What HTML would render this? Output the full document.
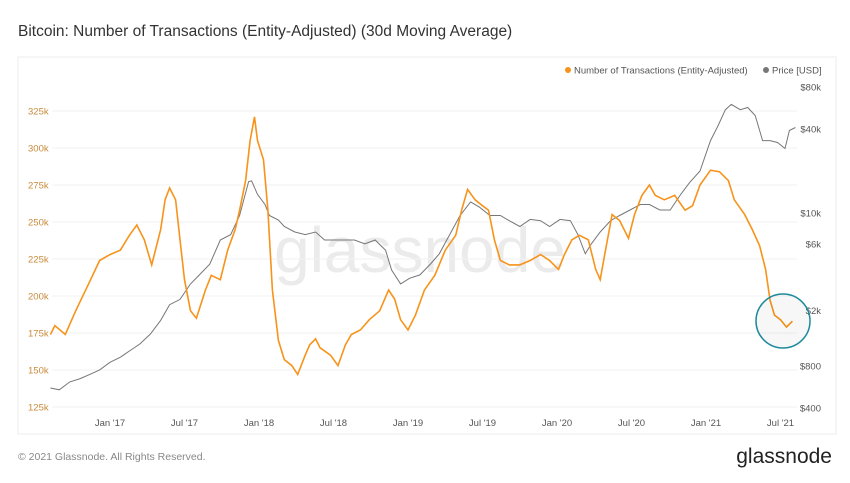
<!DOCTYPE html>
<html><head><meta charset="utf-8"><style>
body{margin:0;background:#fff;width:850px;height:478px;overflow:hidden;font-family:"Liberation Sans",sans-serif}
</style></head><body>
<svg width="850" height="478" xmlns="http://www.w3.org/2000/svg" style="font-family:'Liberation Sans',sans-serif">
<text x="18" y="36" font-size="15.5" fill="#333">Bitcoin: Number of Transactions (Entity-Adjusted) (30d Moving Average)</text>
<rect x="18" y="57" width="818" height="377" fill="#fff" stroke="#eee"/>
<text x="420" y="272" font-size="64" fill="#ebebeb" text-anchor="middle">glassnode</text>
<g id="grid"></g>
<g id="left"></g>
<g id="right"></g>
<g id="xax"></g>
<path id="price" fill="none" stroke="#777" stroke-width="1"/>
<path id="tx" fill="none" stroke="#f7931a" stroke-width="1.6"/>
<circle cx="783" cy="321" r="27" fill="rgba(0,0,0,0.03)" stroke="#1d8a9c" stroke-width="1.5"/>
<g>
<circle cx="568" cy="70" r="3" fill="#f7931a"/>
<text x="574" y="73.5" font-size="9.5" fill="#555">Number of Transactions (Entity-Adjusted)</text>
<circle cx="766" cy="70" r="3" fill="#777"/>
<text x="772" y="73.5" font-size="9.5" fill="#555">Price [USD]</text>
</g>
<text x="18" y="460" font-size="10.5" fill="#888">© 2021 Glassnode. All Rights Reserved.</text>
<text x="832" y="463" font-size="21" fill="#222" text-anchor="end">glassnode</text>
</svg>
<script>
const leftTicks=[125,150,175,200,225,250,275,300,325];
const rightTicks=[400,800,2000,6000,10000,40000,80000];
const rightLabels=["$400","$800","$2k","$6k","$10k","$40k","$80k"];
const xTicks=[2017,2017.5,2018,2018.5,2019,2019.5,2020,2020.5,2021,2021.5];
const xLabels=["Jan '17","Jul '17","Jan '18","Jul '18","Jan '19","Jul '19","Jan '20","Jul '20","Jan '21","Jul '21"];
const txDates=[2016.60,2016.63,2016.70,2016.77,2016.87,2016.93,2017.00,2017.07,2017.13,2017.18,2017.23,2017.28,2017.34,2017.37,2017.40,2017.44,2017.47,2017.50,2017.54,2017.58,2017.64,2017.68,2017.74,2017.79,2017.84,2017.87,2017.91,2017.94,2017.97,2017.99,2018.03,2018.06,2018.09,2018.13,2018.17,2018.22,2018.26,2018.31,2018.34,2018.38,2018.41,2018.48,2018.53,2018.58,2018.62,2018.68,2018.74,2018.81,2018.87,2018.91,2018.95,2019.00,2019.05,2019.11,2019.18,2019.25,2019.32,2019.36,2019.40,2019.45,2019.50,2019.54,2019.58,2019.62,2019.68,2019.75,2019.82,2019.89,2019.95,2020.01,2020.05,2020.10,2020.15,2020.21,2020.26,2020.29,2020.32,2020.37,2020.42,2020.48,2020.52,2020.57,2020.62,2020.66,2020.72,2020.79,2020.86,2020.91,2020.96,2021.03,2021.09,2021.15,2021.19,2021.26,2021.31,2021.36,2021.40,2021.43,2021.46,2021.50,2021.54,2021.58];
const txValues=[174,180,174,190,211,224,228,231,241,248,238,221,245,265,273,265,238,211,190,185,204,214,211,231,245,258,278,305,321,305,292,258,204,170,157,153,147,160,167,171,165,160,153,167,174,177,184,190,204,198,184,177,187,204,214,231,241,258,272,265,261,258,238,224,221,221,224,228,224,218,228,238,241,238,218,211,228,255,251,239,255,268,275,268,265,268,258,261,275,285,284,278,265,255,245,234,218,197,187,184,179,183];
const priceDates=[2016.60,2016.66,2016.73,2016.80,2016.87,2016.93,2017.00,2017.07,2017.13,2017.20,2017.27,2017.34,2017.40,2017.47,2017.54,2017.60,2017.67,2017.74,2017.81,2017.87,2017.93,2017.95,2017.99,2018.04,2018.07,2018.13,2018.17,2018.24,2018.31,2018.38,2018.44,2018.51,2018.58,2018.64,2018.71,2018.78,2018.85,2018.89,2018.95,2019.01,2019.08,2019.15,2019.21,2019.28,2019.35,2019.42,2019.48,2019.55,2019.62,2019.68,2019.75,2019.82,2019.89,2019.95,2020.02,2020.09,2020.14,2020.19,2020.23,2020.29,2020.36,2020.42,2020.49,2020.56,2020.62,2020.69,2020.76,2020.83,2020.89,2020.96,2021.03,2021.08,2021.13,2021.17,2021.23,2021.28,2021.33,2021.38,2021.43,2021.48,2021.53,2021.56,2021.60];
const priceValues=[556,540,615,650,700,750,850,925,1025,1150,1350,1700,2200,2400,3100,3600,4300,6400,7000,9600,16800,17000,13600,11500,9600,8900,8000,7300,7000,7300,6400,6400,6400,6400,6000,6400,5400,3900,3100,3400,3600,4300,5100,7000,9600,12000,11000,9600,9600,8800,8000,9000,8800,8000,9000,8800,7000,5100,6000,7300,8800,9600,10500,11500,11500,10500,10500,13600,16500,20000,33000,42000,55000,60000,55000,57000,50000,33000,33000,32000,29000,39000,41000];

const X=t=>110+(t-2017)*149;
const YL=v=>111+(325-v)/25*37;
const YR=p=>87+Math.log10(80000/p)*139.5;
const NS="http://www.w3.org/2000/svg";
function mk(tag,parent,attrs,txt){const e=document.createElementNS(NS,tag);for(const k in attrs)e.setAttribute(k,attrs[k]);if(txt!==undefined)e.textContent=txt;document.getElementById(parent).appendChild(e);return e;}
leftTicks.forEach(v=>{
  const g=mk('line','grid',{x1:52,x2:797,y1:YL(v),y2:YL(v),stroke:'#f0f0f0'});
  
  
  const t=mk('text','left',{x:28,y:YL(v)+3.5,'font-size':9.5,fill:'#c98a3a'},v+'k');
  
  
});
rightTicks.forEach((p,i)=>{
  const t=mk('text','right',{x:821,y:YR(p)+3.5,'font-size':9.5,fill:'#555','text-anchor':'end'},rightLabels[i]);
  
  
});
xTicks.forEach((t0,i)=>{
  const t=mk('text','xax',{x:X(t0),y:426,'font-size':9.5,fill:'#555','text-anchor':'middle'},xLabels[i]);
  
  
});
document.getElementById('tx').setAttribute('d',txDates.map((t,i)=>(i?'L':'M')+X(t).toFixed(1)+','+YL(txValues[i]).toFixed(1)).join(''));
document.getElementById('price').setAttribute('d',priceDates.map((t,i)=>(i?'L':'M')+X(t).toFixed(1)+','+YR(priceValues[i]).toFixed(1)).join(''));
</script>
</body></html>
